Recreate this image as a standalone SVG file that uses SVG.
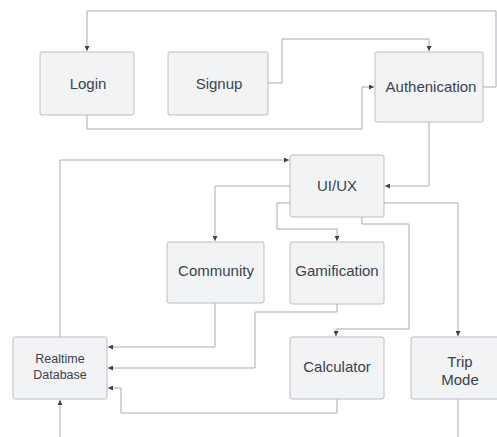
<svg xmlns="http://www.w3.org/2000/svg" width="497" height="437" viewBox="0 0 497 437">
<style>
.box{fill:#f2f3f5;stroke:#b9bdc3;stroke-width:1}
.lbl{font-family:"Liberation Sans",Arial,sans-serif;font-size:15px;fill:#3b424b;text-anchor:middle}
.sm{font-size:12.5px}
.ln{fill:none;stroke:#a7abb1;stroke-width:1;stroke-linejoin:round}
</style>
<defs>
<marker id="ah" viewBox="0 0 8 8" refX="8" refY="4" markerWidth="5" markerHeight="5" orient="auto" markerUnits="userSpaceOnUse">
<path d="M0,0 L8,4 L0,8 z" fill="#3b424b"/>
</marker>
</defs>
<rect width="497" height="437" fill="#ffffff"/>
<g id="connectors">
<path class="ln" d="M483,87 H496 V11 H87 V51" marker-end="url(#ah)"/>
<path class="ln" d="M268,83 H282 V39 H429 V51" marker-end="url(#ah)"/>
<path class="ln" d="M87,115 V129 H362 V87 H374" marker-end="url(#ah)"/>
<path class="ln" d="M429,122 V186 H385" marker-end="url(#ah)"/>
<path class="ln" d="M60,337 V160 H289" marker-end="url(#ah)"/>
<path class="ln" d="M290,186 H215 V241" marker-end="url(#ah)"/>
<path class="ln" d="M290,203 H277 V229 H337 V241" marker-end="url(#ah)"/>
<path class="ln" d="M362,217 V224 H409 V329 H336 V336" marker-end="url(#ah)"/>
<path class="ln" d="M384,203 H458 V336" marker-end="url(#ah)"/>
<path class="ln" d="M215,303 V347 H108" marker-end="url(#ah)"/>
<path class="ln" d="M337,304 V312 H255 V368 H108" marker-end="url(#ah)"/>
<path class="ln" d="M337,399 V413 H121 V388 H108" marker-end="url(#ah)"/>
<path class="ln" d="M60,437 V400" marker-end="url(#ah)"/>
<path class="ln" d="M458,399 V437"/>
</g>
<g id="login"><rect class="box" x="40" y="52" width="94" height="63" rx="2"/><text class="lbl" x="88" y="89">Login</text></g>
<g id="signup"><rect class="box" x="168" y="52" width="100" height="63" rx="2"/><text class="lbl" x="219" y="89">Signup</text></g>
<g id="auth"><rect class="box" x="375" y="52" width="108" height="70" rx="2"/><text class="lbl" x="431" y="92">Authenication</text></g>
<g id="uiux"><rect class="box" x="290" y="155" width="94" height="62" rx="2"/><text class="lbl" x="337" y="191">UI/UX</text></g>
<g id="community"><rect class="box" x="167" y="242" width="97" height="61" rx="2"/><text class="lbl" x="216" y="276">Community</text></g>
<g id="gamification"><rect class="box" x="290" y="242" width="94" height="62" rx="2"/><text class="lbl" x="337" y="276">Gamification</text></g>
<g id="database"><rect class="box" x="13" y="337" width="94" height="62" rx="2"/><text class="lbl sm" x="60" y="363">Realtime</text><text class="lbl sm" x="60" y="379">Database</text></g>
<g id="calculator"><rect class="box" x="290" y="337" width="94" height="62" rx="2"/><text class="lbl" x="337" y="372">Calculator</text></g>
<g id="tripmode"><rect class="box" x="411" y="337" width="94" height="62" rx="2"/><text class="lbl" x="460" y="367">Trip</text><text class="lbl" x="460" y="385">Mode</text></g>
</svg>
